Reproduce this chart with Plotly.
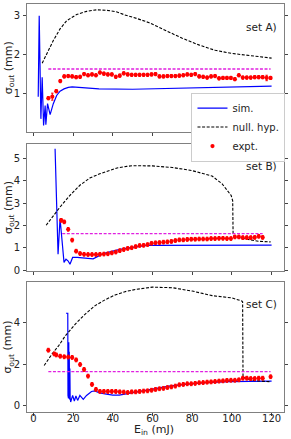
import plotly.graph_objects as go

# ---------------- data ----------------
# Set A
simA_x = [2.4, 2.9, 3.75, 4.4, 5.1, 5.9, 6.25, 7.1, 8.4, 10.0, 11.7, 13.4, 15.4, 17.6, 19.5, 22.0, 27.0, 33.0, 50.0, 66.0, 83.0, 100.0, 120.0]
simA_y = [0.92, 3.0, 0.35, 1.42, 0.18, 0.69, 0.2, 0.74, 0.46, 0.74, 0.95, 1.06, 1.12, 1.16, 1.17, 1.16, 1.14, 1.12, 1.11, 1.13, 1.16, 1.18, 1.19]
nullA_x = [4.4, 6.75, 10.0, 13.4, 16.75, 21.75, 26.75, 31.75, 36.75, 41.75, 46.0, 52.0, 58.3, 66.6, 75.0, 83.3, 91.6, 100.0, 110.0, 120.0]
nullA_y = [1.78, 2.02, 2.36, 2.66, 2.87, 3.03, 3.11, 3.15, 3.14, 3.10, 3.02, 2.93, 2.82, 2.62, 2.42, 2.25, 2.11, 2.03, 1.97, 1.91]
refA_x = [7.5, 119.5]
refA_y = [1.63, 1.63]
expA_x = [7.5 + 2 * i for i in range(57)]
expA_y = [0.88, 0.92, 1.06, 1.32, 1.44, 1.45, 1.44, 1.42, 1.43, 1.50,
          1.47, 1.49, 1.47, 1.54, 1.51, 1.49, 1.49, 1.43, 1.46, 1.52,
          1.49, 1.48, 1.48, 1.48, 1.48, 1.48, 1.49, 1.50, 1.44, 1.44,
          1.45, 1.45, 1.45, 1.46, 1.47, 1.49, 1.48, 1.50, 1.44, 1.43,
          1.41, 1.44, 1.45, 1.39, 1.40, 1.40, 1.40, 1.37, 1.47, 1.41,
          1.41, 1.41, 1.42, 1.42, 1.42, 1.40, 1.40]
expA_err = [0.04, 0.09] + [0.04] * 53 + [0.07, 0.04]

# Set B
simB_x = [10.9, 12.4, 13.4, 15.4, 16.4, 17.4, 18.4, 19.75, 22.0, 26.0, 30.1, 35.1, 40.1, 43.0, 47.0, 52.0, 58.0, 120.0]
simB_y = [5.41, 0.72, 2.31, 0.36, 0.5, 0.43, 0.28, 0.58, 0.58, 0.55, 0.52, 0.75, 0.87, 0.93, 0.99, 1.05, 1.12, 1.13]
nullB_x = [6.4, 10.1, 13.4, 18.4, 23.4, 28.4, 33.4, 38.4, 42.6, 47.0, 50.0, 60.0, 70.0, 80.0, 90.0, 95.0, 99.6, 100.4, 100.6, 101.6, 108.25, 113.25, 119.5]
nullB_y = [2.01, 2.45, 2.82, 3.34, 3.79, 4.11, 4.30, 4.45, 4.57, 4.63, 4.66, 4.65, 4.58, 4.44, 4.20, 3.86, 3.34, 3.10, 1.60, 1.49, 1.38, 1.30, 1.27]
refB_x = [14.5, 115.5]
refB_y = [1.64, 1.64]
expB_x = [14.0, 15.5] + [17.5 + 2 * i for i in range(50)]
expB_y = [2.23, 2.16, 1.83, 1.35, 0.86, 0.75, 0.72, 0.71, 0.71, 0.71,
          0.72, 0.73, 0.74, 0.78, 0.82, 0.88, 0.93, 0.98, 1.01, 1.06,
          1.11, 1.12, 1.15, 1.21, 1.23, 1.24, 1.26, 1.27, 1.29, 1.33,
          1.36, 1.36, 1.38, 1.39, 1.39, 1.40, 1.40, 1.40, 1.42, 1.42,
          1.43, 1.43, 1.42, 1.42, 1.49, 1.49, 1.46, 1.46, 1.46, 1.47,
          1.52, 1.47]
expB_err = [0.08] * 52

# Set C
simC_x = [16.4, 17.3, 17.4, 17.55, 17.65, 17.8, 17.9, 18.05, 18.2, 18.35, 18.5, 18.75, 19.75, 20.6, 21.4, 22.25, 23.4, 25.1, 26.75, 29.25, 30.9, 33.3, 36.75, 40.0, 43.25, 51.6, 60.0, 68.25, 76.6, 86.6, 98.25, 120.0]
simC_y = [4.46, 4.46, 0.5, 3.0, 0.35, 3.06, 0.45, 2.6, 0.3, 1.8, 0.4, 0.18, 0.5, 0.23, 0.47, 0.26, 0.5, 0.31, 0.5, 0.69, 0.72, 0.62, 0.56, 0.51, 0.51, 0.66, 0.83, 0.95, 1.03, 1.11, 1.16, 1.19]
nullC_x = [5.4, 9.4, 12.75, 16.1, 21.1, 26.1, 31.1, 36.1, 41.1, 46.1, 51.6, 60.0, 70.0, 80.0, 90.0, 100.0, 105.0, 105.4, 105.6, 110.0, 119.5]
nullC_y = [1.94, 2.50, 2.90, 3.38, 3.94, 4.42, 4.83, 5.11, 5.34, 5.50, 5.61, 5.72, 5.69, 5.53, 5.31, 5.20, 5.05, 5.00, 1.38, 1.22, 1.16]
refC_x = [7.5, 119.5]
refC_y = [1.65, 1.65]
expC_x = [7.5, 10.5, 11.5] + [13.5 + 2 * i for i in range(52)] + [119.5]
expC_y = [2.68, 2.50, 2.45, 2.39, 2.36, 2.35, 2.33, 2.21, 1.99, 1.75,
          1.43, 1.03, 0.79, 0.69, 0.69, 0.69, 0.69, 0.69, 0.67, 0.66,
          0.64, 0.67, 0.67, 0.69, 0.71, 0.72, 0.75, 0.79, 0.82, 0.84,
          0.88, 0.91, 0.95, 1.01, 1.03, 1.06, 1.06, 1.08, 1.11, 1.12,
          1.14, 1.15, 1.17, 1.19, 1.20, 1.22, 1.23, 1.23, 1.25, 1.33,
          1.33, 1.31, 1.31, 1.33, 1.33, 1.40]
expC_err = [0.09] * 56

x_ticks = [0, 20, 40, 60, 80, 100, 120]
yA_ticks = [1, 2, 3]
yB_ticks = [0, 1, 2, 3, 4, 5]
yC_ticks = [0, 2, 4]
panel_labels = ["set A)", "set B)", "set C)"]
legend_names = ["sim.", "null. hyp.", "expt."]

# ---------------- figure ----------------
fig = go.Figure()

panels = [
    (simA_x, simA_y, nullA_x, nullA_y, refA_x, refA_y, expA_x, expA_y, expA_err),
    (simB_x, simB_y, nullB_x, nullB_y, refB_x, refB_y, expB_x, expB_y, expB_err),
    (simC_x, simC_y, nullC_x, nullC_y, refC_x, refC_y, expC_x, expC_y, expC_err),
]

for i, (sx, sy, nx, ny, rx, ry, ex, ey, ee) in enumerate(panels):
    xa = "x" if i == 0 else f"x{i+1}"
    ya = "y" if i == 0 else f"y{i+1}"
    show = i == 0
    fig.add_trace(go.Scatter(x=sx, y=sy, mode="lines", name=legend_names[0],
                             line=dict(color="#0000ff", width=1.2),
                             xaxis=xa, yaxis=ya, showlegend=show, legendrank=1))
    fig.add_trace(go.Scatter(x=nx, y=ny, mode="lines", name=legend_names[1],
                             line=dict(color="black", width=1.1, dash="3px,1.6px"),
                             xaxis=xa, yaxis=ya, showlegend=show, legendrank=2))
    fig.add_trace(go.Scatter(x=rx, y=ry, mode="lines", name="ref",
                             line=dict(color="#e020e0", width=1.3, dash="3px,1.6px"),
                             xaxis=xa, yaxis=ya, showlegend=False))
    fig.add_trace(go.Scatter(x=ex, y=ey, mode="markers", name=legend_names[2],
                             marker=dict(color="red", size=4.2),
                             error_y=dict(type="data", array=ee, color="red",
                                          thickness=1, width=1.2),
                             xaxis=xa, yaxis=ya, showlegend=show, legendrank=3))

domains = [[0.687, 1.0], [0.3447, 0.6577], [0.0, 0.3178]]
yranges = [[0.02, 3.30], [-0.04, 5.64], [-0.30, 5.95]]
yticks = [yA_ticks, yB_ticks, yC_ticks]

axis_common = dict(showline=True, linecolor="#808080", linewidth=1,
                   ticks="outside", ticklen=3, tickcolor="#444",
                   showgrid=False, zeroline=False,
                   tickfont=dict(size=10, color="#222", family="DejaVu Sans"))

layout = dict(
    width=291, height=439,
    margin=dict(l=27, r=5, t=3, b=27),
    paper_bgcolor="white", plot_bgcolor="white",
    font=dict(family="DejaVu Sans", size=10, color="#222"),
    legend=dict(x=0.64, y=0.783, xanchor="left", yanchor="top",
                bgcolor="white", bordercolor="#cccccc", borderwidth=1,
                font=dict(size=10, color="#222"), tracegroupgap=0,
                itemwidth=30),
)

for i in range(3):
    xk = "xaxis" if i == 0 else f"xaxis{i+1}"
    yk = "yaxis" if i == 0 else f"yaxis{i+1}"
    yid = "y" if i == 0 else f"y{i+1}"
    xid = "x" if i == 0 else f"x{i+1}"
    layout[xk] = dict(axis_common, domain=[0, 1], range=[-3.25, 126.25],
                      tickvals=x_ticks, showticklabels=(i == 2),
                      ticklabelstandoff=-6,
                      mirror=True, anchor=yid)
    layout[yk] = dict(axis_common, domain=domains[i], range=yranges[i],
                      tickvals=yticks[i], mirror="ticks", anchor=xid,
                      ticklabelstandoff=1)

fig.update_layout(**layout)

label_y = [0.9445, 0.602, 0.265]
title_y = [0.8435, 0.5012, 0.159]
for i in range(3):
    fig.add_annotation(text=panel_labels[i], xref="paper", yref="paper",
                       x=0.981, y=label_y[i], xanchor="right", yanchor="middle",
                       showarrow=False, font=dict(size=10.5, color="#222"))
    fig.add_annotation(text="σ<sub>out</sub> (mm)", xref="paper", yref="paper",
                       x=-0.072, y=title_y[i], xanchor="center", yanchor="middle",
                       textangle=-90, showarrow=False, font=dict(size=11, color="#222"))

fig.add_annotation(text="E<sub>in</sub> (mJ)", xref="paper", yref="paper",
                   x=0.495, y=-0.043, xanchor="center", yanchor="middle",
                   showarrow=False, font=dict(size=11, color="#222"))

fig.write_html("out.html", config={"displayModeBar": False},
               post_script="document.body.style.margin='0';document.body.style.overflow='hidden';")
